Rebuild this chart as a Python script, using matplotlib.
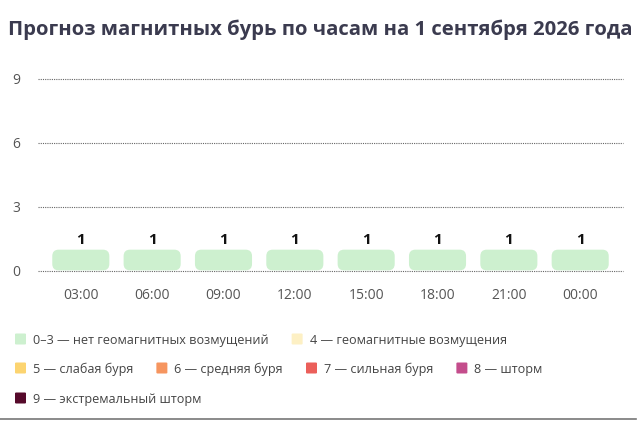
import matplotlib
matplotlib.use("Agg")
import matplotlib.pyplot as plt
from matplotlib.patches import FancyBboxPatch
from matplotlib.lines import Line2D

plt.rcParams['font.family'] = ['Open Sans', 'DejaVu Sans']

title = "Прогноз магнитных бурь по часам на 1 сентября 2026 года"
hours = ["03:00", "06:00", "09:00", "12:00", "15:00", "18:00", "21:00", "00:00"]
values = [1, 1, 1, 1, 1, 1, 1, 1]
y_ticks = [0, 3, 6, 9]

legend_labels = [
    "0–3 — нет геомагнитных возмущений",
    "4 — геомагнитные возмущения",
    "5 — слабая буря",
    "6 — средняя буря",
    "7 — сильная буря",
    "8 — шторм",
    "9 — экстремальный шторм",
]
legend_colors = ["#cdf0cf", "#fdf0c4", "#fcd470", "#f6955f", "#eb5f5a", "#c44d8c", "#560a2b"]
legend_rows = [[0, 1], [2, 3, 4, 5], [6]]

W, H = 640, 426
fig = plt.figure(figsize=(W / 100, H / 100), dpi=100)
ax = fig.add_axes([38 / W, (H - 271) / H, (623 - 38) / W, (271 - 79) / H])

x = list(range(len(hours)))
bars = ax.bar(x, values, width=0.8, color=legend_colors[0])
for b in bars:
    bx, by, bw, bh = b.get_x(), b.get_y(), b.get_width(), b.get_height()
    b.set_visible(False)
    p = FancyBboxPatch((bx, by + 0.03), bw, bh - 0.03,
                       boxstyle="round,pad=0,rounding_size=0.09",
                       mutation_aspect=3.35, facecolor=legend_colors[0],
                       edgecolor="none", zorder=3)
    ax.add_patch(p)
    ax.text(bx + bw / 2, bh + 0.12, str(int(bh)), ha="center", va="bottom",
            fontsize=11, fontweight="bold", color="#111111")

ax.set_xlim(-0.6, len(hours) - 0.4)
ax.set_ylim(0, 9)
ax.set_yticks(y_ticks)
ax.set_yticklabels([str(t) for t in y_ticks])
ax.set_xticks(x)
ax.set_xticklabels(hours)
for s in ax.spines.values():
    s.set_visible(False)
ax.tick_params(axis="both", length=0, labelsize=10, colors="#555555")
ax.tick_params(axis="y", pad=13)
ax.tick_params(axis="x", pad=12)
for t in y_ticks:
    ax.axhline(t, color="#666666", linestyle=(0, (1, 1)), linewidth=0.8,
               zorder=1, clip_on=False)

fig.text(320 / W, (H - 30) / H, title, ha="center", va="center",
         fontsize=14.6, fontweight="bold", color="#3b3b4f")

# legend laid out as a wrapped flow
fig.canvas.draw()
renderer = fig.canvas.get_renderer()
row_y = [339, 368, 398]
for r, idxs in enumerate(legend_rows):
    cx = 15
    yc = H - row_y[r]
    for i in idxs:
        sq = FancyBboxPatch((cx / W, (yc - 5.5) / H), 11 / W, 11 / H,
                            boxstyle="round,pad=0,rounding_size=0.002",
                            transform=fig.transFigure, facecolor=legend_colors[i],
                            edgecolor="none")
        fig.patches.append(sq)
        t = fig.text((cx + 18) / W, yc / H, legend_labels[i], ha="left",
                     va="center_baseline", fontsize=9.1, color="#444444")
        bb = t.get_window_extent(renderer)
        cx = bb.x1 + 23

fig.add_artist(Line2D([0, 636 / W], [(H - 419) / H] * 2, transform=fig.transFigure,
                      color="#777777", linewidth=1.2))

fig.savefig("out.png", dpi=100)
